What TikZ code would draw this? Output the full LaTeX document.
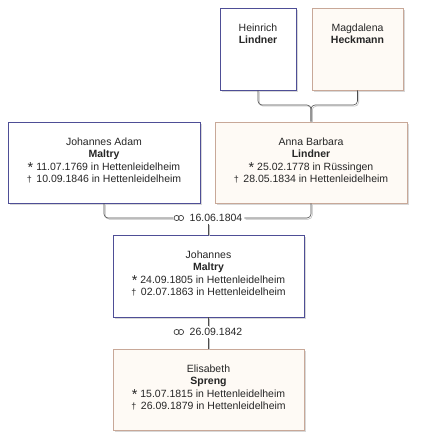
\documentclass[tikz,border=0pt]{standalone}
\usepackage{fontspec}
\setmainfont{Liberation Sans}
\usepackage{tikz}
\usetikzlibrary{positioning,shadows}

\definecolor{manline}{RGB}{78,78,150}
\definecolor{womanline}{RGB}{200,168,152}
\definecolor{womanfill}{RGB}{254,250,245}
\newcommand{\born}{\raisebox{-0.45ex}{\Large *}\ }
\newcommand{\died}{\raisebox{0.1ex}{\small †}\ \,}

\begin{document}
\begin{tikzpicture}[x=1pt, y=-1pt,
	man/.style={draw=manline, fill=white, line width=0.9pt,
		drop shadow={shadow xshift=2pt, shadow yshift=-2pt, fill=black!30}},
	woman/.style={draw=womanline, fill=womanfill, line width=0.9pt,
		drop shadow={shadow xshift=2pt, shadow yshift=-2pt, fill=black!30}},
	txt/.style={align=center, inner sep=0pt, text=black!85,
		font=\fontsize{10.5}{12.4}\selectfont},
	link/.style={draw=black!70, line width=0.6pt, rounded corners=4pt,
		preaction={draw=black!25, line width=0.6pt,
			transform canvas={shift={(1.2pt,-1.2pt)}}}},
	wedlabel/.style={txt, inner sep=2pt},
	rings/.style={minimum width=11pt, minimum height=7pt, inner sep=0pt},
	ring/.style={draw=black!75, line width=0.7pt}
]
	\useasboundingbox (0,0) rectangle (422,446);

	% Grandparents
	\node[man, minimum width=76pt, minimum height=82pt] (heinrich) at (258,49) {};
	\node[txt, anchor=north] (heinrichtxt) at ([yshift=-16pt]heinrich.north)
		{Heinrich\\ \textbf{Lindner}};
	\node[woman, minimum width=91pt, minimum height=82pt] (magdalena) at (357.5,49) {};
	\node[txt, anchor=north] (magdalenatxt) at ([yshift=-16pt]magdalena.north)
		{Magdalena\\ \textbf{Heckmann}};

	% Parents
	\node[man, minimum width=192pt, minimum height=81pt] (jadam) at (104,162.5) {};
	\node[txt, anchor=north] (jadamtxt) at ([yshift=-16pt]jadam.north)
		{Johannes Adam\\ \textbf{Maltry}\\
		 \born 11.07.1769 in Hettenleidelheim\\
		 \died 10.09.1846 in Hettenleidelheim};
	\node[woman, minimum width=192pt, minimum height=81pt] (anna) at (311,162.5) {};
	\node[txt, anchor=north] (annatxt) at ([yshift=-16pt]anna.north)
		{Anna Barbara\\ \textbf{Lindner}\\
		 \born 25.02.1778 in Rüssingen\\
		 \died 28.05.1834 in Hettenleidelheim};

	\coordinate (gmid) at (311,105);
	\draw[link] (heinrich.south) |- (gmid) -- (anna.north);
	\draw[link] (magdalena.south) |- (gmid) -- (anna.north);

	% Johannes
	\node[wedlabel] (wed1) at (216,218) {16.06.1804};
	\node[rings, left=3pt of wed1] (rings1) {};
	\draw[ring] ([xshift=-2.2pt]rings1.center) circle (2.6pt)
		([xshift=2.2pt]rings1.center) circle (2.6pt);
	\node[man, minimum width=191pt, minimum height=82pt] (johannes) at (208.5,276) {};
	\node[txt, anchor=north] (johannestxt) at ([yshift=-16pt]johannes.north)
		{Johannes\\ \textbf{Maltry}\\
		 \born 24.09.1805 in Hettenleidelheim\\
		 \died 02.07.1863 in Hettenleidelheim};

	\draw[link] (jadam.south) |- (rings1.west);
	\draw[link] (anna.south) |- (wed1.east);
	\draw[link] (johannes.north |- wed1.south) -- (johannes.north);

	% Spouse
	\node[wedlabel] (wed2) at (216,332) {26.09.1842};
	\node[rings, left=3pt of wed2] (rings2) {};
	\draw[ring] ([xshift=-2.2pt]rings2.center) circle (2.6pt)
		([xshift=2.2pt]rings2.center) circle (2.6pt);
	\node[woman, minimum width=191pt, minimum height=81pt] (elisabeth) at (208.5,389.5) {};
	\node[txt, anchor=north] (elisabethtxt) at ([yshift=-16pt]elisabeth.north)
		{Elisabeth\\ \textbf{Spreng}\\
		 \born 15.07.1815 in Hettenleidelheim\\
		 \died 26.09.1879 in Hettenleidelheim};

	\draw[link] (johannes.south) -- (johannes.south |- wed2.north);
	\draw[link] (elisabeth.north |- wed2.south) -- (elisabeth.north);
\end{tikzpicture}
\end{document}
